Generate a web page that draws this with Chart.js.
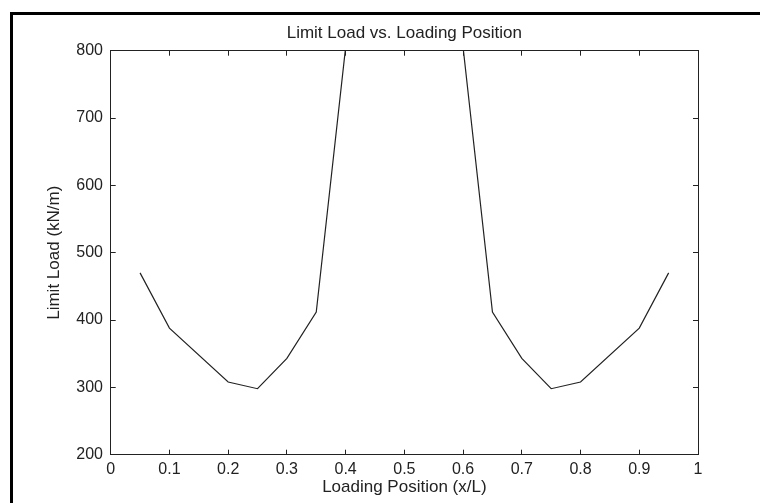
<!DOCTYPE html>
<html lang="en">
<head>
    <meta charset="UTF-8">
    <title>Limit Load vs. Loading Position</title>
    <script src="https://cdn.jsdelivr.net/npm/chart.js@4.4.1/dist/chart.umd.min.js"></script>
    <style>
      body { margin:0; background:#ffffff; }
      #wrap { position:relative; width:760px; height:503px; }
      #frame {
        position:absolute; left:10px; top:12px; right:0; bottom:0;
        border-left:3px solid #000; border-top:3px solid #000;
        pointer-events:none;
      }
    </style>
</head>

<body>
  <div id="wrap">
    <canvas id="load_chart" width="760" height="503"></canvas>
    <div id="frame"></div>
  </div>
  <script>
    // loading position (x/L) and limit load (kN/m)
    // values at 0.5 run off the top of the axes, so left empty
    const positions = [0.05, 0.1, 0.2, 0.25, 0.3, 0.35, 0.4, 0.5, 0.6, 0.65, 0.7, 0.75, 0.8, 0.9, 0.95];
    const loads     = [470, 388, 308, 298, 343, 412, 805, null, 805, 412, 343, 298, 308, 388, 470];

    const xTickLabels = ['0', '0.1', '0.2', '0.3', '0.4', '0.5', '0.6', '0.7', '0.8', '0.9', '1'];
    const yTickLabels = ['200', '300', '400', '500', '600', '700', '800'];

    const fontFam = "'Liberation Sans', Arial, Helvetica, sans-serif";
    const ink = '#222222';

    const boxGrid = { drawOnChartArea: false, tickLength: -5, color: ink, lineWidth: 1 };

    var ctx = document.getElementById('load_chart').getContext('2d');
    var chart = new Chart(ctx, {
      type: 'line',
      data: {
        datasets: [{
          label: 'Limit Load',
          data: positions.map((p, i) => ({ x: p, y: loads[i] })),
          borderColor: ink,
          borderWidth: 1.2,
          pointRadius: 0,
          tension: 0,
          fill: false,
          spanGaps: false
        }]
      },
      options: {
        responsive: false,
        animation: false,
        layout: { padding: { left: 0, right: 62, top: 0, bottom: 0 } },
        plugins: {
          legend: { display: false },
          tooltip: { enabled: false },
          title: { display: false }
        },
        scales: {
          x: {
            type: 'linear', position: 'bottom', min: 0, max: 1,
            ticks: {
              stepSize: 0.1, color: ink, padding: 10,
              font: { family: fontFam, size: 16 },
              callback: (v, i) => xTickLabels[i]
            },
            grid: boxGrid,
            border: { color: ink, width: 1 },
            title: {
              display: true, text: 'Loading Position (x/L)', color: ink,
              font: { family: fontFam, size: 17 },
              padding: { top: 0, bottom: 5 }
            },
            afterFit: s => { s.height = 48.3; }
          },
          x2: {
            type: 'linear', position: 'top', min: 0, max: 1,
            ticks: { stepSize: 0.1, display: false },
            grid: boxGrid,
            border: { color: ink, width: 1 },
            title: {
              display: true, text: 'Limit Load vs. Loading Position', color: ink,
              font: { family: fontFam, size: 17 },
              padding: { top: 23, bottom: 0 }
            },
            afterFit: s => { s.height = 50.7; }
          },
          y: {
            type: 'linear', position: 'left', min: 200, max: 800,
            ticks: {
              stepSize: 100, color: ink, padding: 12.7,
              font: { family: fontFam, size: 16 },
              callback: (v, i) => yTickLabels[i]
            },
            grid: boxGrid,
            border: { color: ink, width: 1 },
            title: {
              display: true, text: 'Limit Load (kN/m)', color: ink,
              font: { family: fontFam, size: 17 },
              padding: { top: 44, bottom: 0 }
            },
            afterFit: s => { s.width = 110.7; }
          },
          y2: {
            type: 'linear', position: 'right', min: 200, max: 800,
            ticks: { stepSize: 100, display: false },
            grid: boxGrid,
            border: { color: ink, width: 1 },
            afterFit: s => { s.width = 0; }
          }
        }
      }
    });
  </script>
</body>

</html>
